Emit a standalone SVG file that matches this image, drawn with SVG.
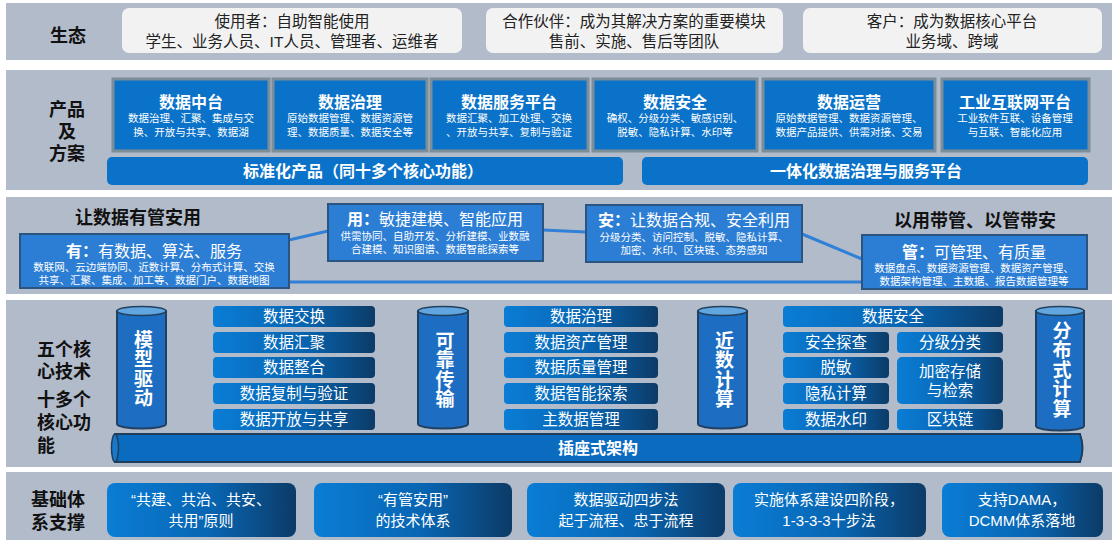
<svg xmlns="http://www.w3.org/2000/svg" width="1118" height="544" viewBox="0 0 1118 544">
<style>
text{font-family:"Liberation Sans","Noto Sans CJK SC",sans-serif;dominant-baseline:central;text-anchor:middle}
.band{fill:#b2bbca}
.lab{font-size:18px;font-weight:bold;fill:#111}
.eco{fill:#f2f2f2}
.et{font-size:15.5px;fill:#222}
.prod{fill:#0a72c8;stroke:#7c8e98;stroke-width:3}
.pt{font-size:16px;font-weight:bold;fill:#fff}
.ps{font-size:10.5px;fill:#fff}
.bar{fill:#0a72c8}
.bt{font-size:16px;font-weight:bold;fill:#fff}
.vb{fill:#2c7ed5;stroke:#2b5480;stroke-width:2}
.vt{font-size:16px;fill:#fff}
.vs{font-size:10.5px;fill:#fff}
.gb{fill:url(#g)}
.ft{font-size:15.5px;fill:#fff}
.cyl{fill:#1d6ec2;stroke:#22405f;stroke-width:2}
.cap{fill:#62a6e0;stroke:#22405f;stroke-width:1.5}
.ct{font-size:19px;font-weight:bold;fill:#fff;writing-mode:vertical-rl;letter-spacing:0.5px}
.bx{font-size:15px;fill:#fff}
.conn{stroke:#2f80d6;stroke-width:3;fill:none}
</style>
<defs>
<linearGradient id="g" x1="0" y1="0" x2="1" y2="0">
<stop offset="0" stop-color="#0a7dd5"/>
<stop offset="0.55" stop-color="#0865b2"/>
<stop offset="1" stop-color="#0c3b67"/>
</linearGradient>
</defs>
<rect width="1118" height="544" fill="#fff"/>
<rect class="band" x="6" y="3" width="1106" height="57"/>
<rect class="band" x="6" y="70" width="1106" height="120"/>
<rect class="band" x="6" y="197" width="1106" height="97"/>
<rect class="band" x="6" y="300" width="1106" height="167"/>
<rect class="band" x="6" y="472" width="1106" height="68"/>

<g id="row-eco">
<text class="lab" x="68" y="36">生态</text>
<g id="eco-user"><rect class="eco" x="122" y="8" width="340" height="45" rx="7"/>
<text class="et"><tspan x="292" y="21">使用者：自助智能使用</tspan><tspan x="292" y="41">学生、业务人员、IT人员、管理者、运维者</tspan></text></g>
<g id="eco-partner"><rect class="eco" x="486" y="8" width="297" height="45" rx="7"/>
<text class="et"><tspan x="634" y="21">合作伙伴：成为其解决方案的重要模块</tspan><tspan x="634" y="41">售前、实施、售后等团队</tspan></text></g>
<g id="eco-customer"><rect class="eco" x="803" y="8" width="299" height="45" rx="7"/>
<text class="et"><tspan x="952" y="21">客户：成为数据核心平台</tspan><tspan x="952" y="41">业务域、跨域</tspan></text></g>
</g>

<g id="row-product">
<text class="lab"><tspan x="67" y="110">产品</tspan><tspan x="67" y="132">及</tspan><tspan x="67" y="154">方案</tspan></text>
<g id="p1"><rect class="prod" x="113" y="79" width="156" height="72"/>
<text class="pt" x="191" y="102">数据中台</text>
<text class="ps"><tspan x="191" y="118">数据治理、汇聚、集成与交</tspan><tspan x="191" y="132">换、开放与共享、数据湖</tspan></text></g>
<g id="p2"><rect class="prod" x="273" y="79" width="154" height="72"/>
<text class="pt" x="350" y="102">数据治理</text>
<text class="ps"><tspan x="350" y="118">原始数据管理、数据资源管</tspan><tspan x="350" y="132">理、数据质量、数据安全等</tspan></text></g>
<g id="p3"><rect class="prod" x="431" y="79" width="157" height="72"/>
<text class="pt" x="509" y="102">数据服务平台</text>
<text class="ps"><tspan x="509" y="118">数据汇聚、加工处理、交换</tspan><tspan x="509" y="132">、开放与共享、复制与验证</tspan></text></g>
<g id="p4"><rect class="prod" x="593" y="79" width="164" height="72"/>
<text class="pt" x="675" y="102">数据安全</text>
<text class="ps"><tspan x="675" y="118">确权、分级分类、敏感识别、</tspan><tspan x="675" y="132">脱敏、隐私计算、水印等</tspan></text></g>
<g id="p5"><rect class="prod" x="763" y="79" width="172" height="72"/>
<text class="pt" x="849" y="102">数据运营</text>
<text class="ps"><tspan x="849" y="118">原始数据管理、数据资源管理、</tspan><tspan x="849" y="132">数据产品提供、供需对接、交易</tspan></text></g>
<g id="p6"><rect class="prod" x="942" y="79" width="147" height="72"/>
<text class="pt" x="1015" y="102">工业互联网平台</text>
<text class="ps"><tspan x="1015" y="118">工业软件互联、设备管理</tspan><tspan x="1015" y="132">与互联、智能化应用</tspan></text></g>
<g id="bar-std"><rect class="bar" x="107" y="157" width="516" height="28" rx="5"/>
<text class="bt" x="363" y="171">标准化产品（同十多个核心功能）</text></g>
<g id="bar-int"><rect class="bar" x="642" y="157" width="446" height="28" rx="5"/>
<text class="bt" x="866" y="171">一体化数据治理与服务平台</text></g>
</g>

<g id="connectors">
<line class="conn" x1="289" y1="240" x2="328" y2="231"/>
<line class="conn" x1="543" y1="230" x2="586" y2="232"/>
<line class="conn" x1="802" y1="234" x2="862" y2="259"/>
<line class="conn" x1="289" y1="282" x2="862" y2="282"/>
</g>

<g id="row-value">
<text class="lab" x="138" y="218">让数据有管安用</text>
<text class="lab" x="975" y="221">以用带管、以管带安</text>
<g id="v-you"><rect class="vb" x="20" y="234" width="269" height="54"/>
<text class="vt" x="154" y="251"><tspan font-weight="bold">有：</tspan>有数据、算法、服务</text>
<text class="vs"><tspan x="154" y="267">数联网、云边端协同、近数计算、分布式计算、交换</tspan><tspan x="154" y="280">共享、汇聚、集成、加工等、数据门户、数据地图</tspan></text></g>
<g id="v-yong"><rect class="vb" x="328" y="204" width="215" height="57"/>
<text class="vt" x="435" y="219"><tspan font-weight="bold">用：</tspan>敏捷建模、智能应用</text>
<text class="vs"><tspan x="435" y="236">供需协同、自助开发、分析建模、业数融</tspan><tspan x="435" y="249">合建模、知识图谱、数据智能探索等</tspan></text></g>
<g id="v-an"><rect class="vb" x="586" y="205" width="216" height="57"/>
<text class="vt" x="694" y="220"><tspan font-weight="bold">安：</tspan>让数据合规、安全利用</text>
<text class="vs"><tspan x="694" y="237">分级分类、访问控制、脱敏、隐私计算、</tspan><tspan x="694" y="250">加密、水印、区块链、态势感知</tspan></text></g>
<g id="v-guan"><rect class="vb" x="862" y="235" width="225" height="54"/>
<text class="vt" x="974" y="252"><tspan font-weight="bold">管：</tspan>可管理、有质量</text>
<text class="vs"><tspan x="974" y="268">数据盘点、数据资源管理、数据资产管理、</tspan><tspan x="974" y="281">数据架构管理、主数据、报告数据管理等</tspan></text></g>
</g>

<g id="row-core">
<text class="lab" style="text-anchor:start"><tspan x="37" y="350">五个核</tspan><tspan x="37" y="372">心技术</tspan><tspan x="37" y="400">十多个</tspan><tspan x="37" y="423">核心功</tspan><tspan x="37" y="446">能</tspan></text>

<g id="pipe"><path d="M115,434 L1080,434 Q1085,448 1080,462 L115,462 Z" fill="#0a6bbf" stroke="#1f3d5c" stroke-width="2"/>
<ellipse cx="115" cy="448" rx="3.5" ry="14" fill="#1a78cc" stroke="#1f3d5c" stroke-width="1.5"/>
<text class="bt" x="598" y="448">插座式架构</text></g>

<g id="cyl-model"><path class="cyl" d="M117,311 L117,424 A24.5,4.5 0 0 0 166,424 L166,311 Z"/>
<ellipse class="cap" cx="141.5" cy="311" rx="24.5" ry="4.5"/>
<text class="ct" x="141.5" y="369">模型驱动</text></g>

<g id="cyl-trans"><path class="cyl" d="M418,311 L418,424 A25,4.5 0 0 0 468,424 L468,311 Z"/>
<ellipse class="cap" cx="443" cy="311" rx="25" ry="4.5"/>
<text class="ct" x="443" y="370">可靠传输</text></g>

<g id="cyl-near"><path class="cyl" d="M698,311 L698,424 A24.5,4.5 0 0 0 747,424 L747,311 Z"/>
<ellipse class="cap" cx="722.5" cy="311" rx="24.5" ry="4.5"/>
<text class="ct" x="722.5" y="370">近数计算</text></g>

<g id="cyl-dist"><path class="cyl" d="M1036,311 L1036,426 A24,4.5 0 0 0 1084,426 L1084,311 Z"/>
<ellipse class="cap" cx="1060" cy="311" rx="24" ry="4.5"/>
<text class="ct" x="1060" y="370">分布式计算</text></g>

<g id="col-exchange">
<rect class="gb" x="213" y="306" width="162" height="21" rx="4"/><text class="ft" x="294" y="316.5">数据交换</text>
<rect class="gb" x="213" y="332" width="162" height="21" rx="4"/><text class="ft" x="294" y="342.5">数据汇聚</text>
<rect class="gb" x="213" y="357" width="162" height="21" rx="4"/><text class="ft" x="294" y="367.5">数据整合</text>
<rect class="gb" x="213" y="383" width="162" height="21" rx="4"/><text class="ft" x="294" y="393.5">数据复制与验证</text>
<rect class="gb" x="213" y="409" width="162" height="21" rx="4"/><text class="ft" x="294" y="419.5">数据开放与共享</text>
</g>
<g id="col-governance">
<rect class="gb" x="504" y="306" width="154" height="21" rx="4"/><text class="ft" x="581" y="316.5">数据治理</text>
<rect class="gb" x="504" y="332" width="154" height="21" rx="4"/><text class="ft" x="581" y="342.5">数据资产管理</text>
<rect class="gb" x="504" y="357" width="154" height="21" rx="4"/><text class="ft" x="581" y="367.5">数据质量管理</text>
<rect class="gb" x="504" y="383" width="154" height="21" rx="4"/><text class="ft" x="581" y="393.5">数据智能探索</text>
<rect class="gb" x="504" y="409" width="154" height="21" rx="4"/><text class="ft" x="581" y="419.5">主数据管理</text>
</g>
<g id="col-security">
<rect class="gb" x="783" y="306" width="220" height="21" rx="4"/><text class="ft" x="893" y="316.5">数据安全</text>
<rect class="gb" x="783" y="332" width="106" height="21" rx="4"/><text class="ft" x="836" y="342.5">安全探查</text>
<rect class="gb" x="783" y="357" width="106" height="21" rx="4"/><text class="ft" x="836" y="367.5">脱敏</text>
<rect class="gb" x="783" y="383" width="106" height="21" rx="4"/><text class="ft" x="836" y="393.5">隐私计算</text>
<rect class="gb" x="783" y="409" width="106" height="21" rx="4"/><text class="ft" x="836" y="419.5">数据水印</text>
<rect class="gb" x="897" y="332" width="106" height="21" rx="4"/><text class="ft" x="950" y="342.5">分级分类</text>
<rect class="gb" x="897" y="357" width="106" height="47" rx="5"/><text class="ft"><tspan x="950" y="371">加密存储</tspan><tspan x="950" y="390">与检索</tspan></text>
<rect class="gb" x="897" y="409" width="106" height="21" rx="4"/><text class="ft" x="950" y="419.5">区块链</text>
</g>
</g>

<g id="row-base">
<text class="lab"><tspan x="58" y="500">基础体</tspan><tspan x="58" y="523">系支撑</tspan></text>
<g id="b1"><rect class="gb" x="107" y="483" width="189" height="54" rx="8"/>
<text class="bx"><tspan x="201" y="499">“共建、共治、共安、</tspan><tspan x="201" y="520">共用”原则</tspan></text></g>
<g id="b2"><rect class="gb" x="314" y="483" width="198" height="54" rx="8"/>
<text class="bx"><tspan x="413" y="499">“有管安用”</tspan><tspan x="413" y="520">的技术体系</tspan></text></g>
<g id="b3"><rect class="gb" x="527" y="483" width="198" height="54" rx="8"/>
<text class="bx"><tspan x="626" y="499">数据驱动四步法</tspan><tspan x="626" y="520">起于流程、忠于流程</tspan></text></g>
<g id="b4"><rect class="gb" x="733" y="483" width="193" height="54" rx="8"/>
<text class="bx"><tspan x="829" y="499">实施体系建设四阶段，</tspan><tspan x="829" y="520">1-3-3-3十步法</tspan></text></g>
<g id="b5"><rect class="gb" x="942" y="483" width="161" height="54" rx="8"/>
<text class="bx"><tspan x="1022" y="499">支持DAMA，</tspan><tspan x="1022" y="520">DCMM体系落地</tspan></text></g>
</g>
</svg>
